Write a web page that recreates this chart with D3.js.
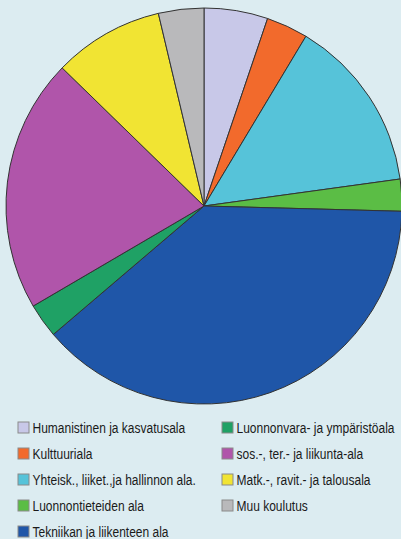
<!DOCTYPE html>
<html>
<head>
<meta charset="utf-8">
<script src="https://cdn.jsdelivr.net/npm/d3@7"></script>
<style>
  body { margin: 0; background: #dcecf1; }
  svg { display: block; }
  text { font-family: "Liberation Sans", Arial, sans-serif; }
</style>
</head>
<body>
<svg width="401" height="539"></svg>
<script>
// alat ja osuudet (%)
var categories = ["Humanistinen ja kasvatusala", "Kulttuuriala", "Yhteisk., liiket.,ja hallinnon ala.",
  "Luonnontieteiden ala", "Tekniikan ja liikenteen ala", "Luonnonvara- ja ympäristöala",
  "sos.-, ter.- ja liikunta-ala", "Matk.-, ravit.- ja talousala", "Muu koulutus"];
var values = [5.2, 3.4, 14.2, 2.6, 38.3, 2.8, 20.7, 9.0, 3.7];
var colors = ["#c8c8e8", "#f26a2c", "#56c3d9", "#5bbd45", "#1f56a8", "#1fa165", "#b055aa", "#f1e433", "#b9b9bb"];

var svg = d3.select("svg");
var cx = 204, cy = 206, radius = 198;

var data = categories.map(function(c, i) {
  return { name: c, value: values[i], color: colors[i] };
});

// pie, clockwise from the top
var pie = d3.pie()
  .sort(null)
  .value(function(d) { return d.value; });

var arc = d3.arc()
  .innerRadius(0)
  .outerRadius(radius);

svg.append("g")
  .attr("transform", "translate(" + cx + "," + cy + ")")
  .selectAll("path")
  .data(pie(data))
  .enter().append("path")
  .attr("d", arc)
  .style("fill", function(d) { return d.data.color; })
  .style("stroke", "#333")
  .style("stroke-width", 1);

// legend in two columns
var rowH = 26;
var legend = svg.selectAll("g.legend")
  .data(data)
  .enter().append("g")
  .attr("class", "legend")
  .attr("transform", function(d, i) {
    var col = i < 5 ? 0 : 1;
    var row = i < 5 ? i : i - 5;
    return "translate(" + (col ? 222 : 18) + "," + (422 + row * rowH) + ")";
  });

legend.append("rect")
  .attr("width", 11)
  .attr("height", 11)
  .style("fill", function(d) { return d.color; })
  .style("stroke", "#8a8a8a")
  .style("stroke-width", 1);

// condensed look: squeeze the text horizontally
legend.append("text")
  .attr("transform", "translate(14.5,11) scale(0.8,1)")
  .attr("font-size", 15)
  .style("fill", "#1a1a1a")
  .text(function(d) { return d.name; });
</script>
</body>
</html>
